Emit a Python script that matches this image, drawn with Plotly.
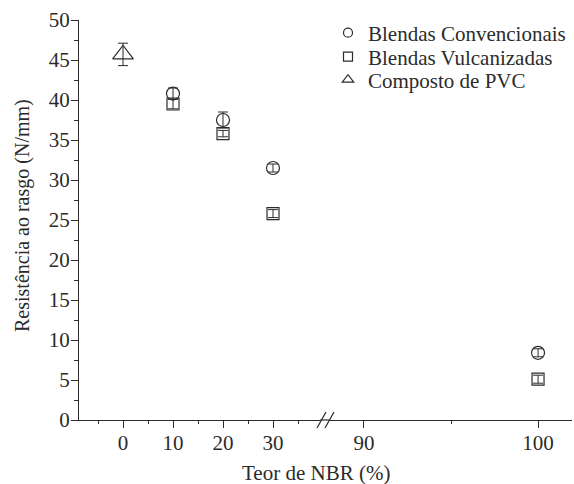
import plotly.graph_objects as go

# ---- data ----
nbr = [10, 20, 30, 100]
conv = [40.8, 37.5, 31.5, 8.4]
conv_err = [0.7, 1.0, 0.5, 0.5]
vulc = [39.5, 35.8, 25.8, 5.1]
vulc_err = [0.6, 0.4, 0.5, 0.5]
pvc_x = [0]
pvc = [45.7]
pvc_err = [1.4]

left_ticks = [0, 10, 20, 30]
right_ticks = [90, 100]
y_ticks = list(range(0, 51, 5))
BREAK = 60

INK = "#2b2b2b"
FONT = "Liberation Serif"
FS = 20

L_PX, R_PX, T_PX, B_PX = 79, 572, 20, 420
W_PX = R_PX - L_PX
H_PX = B_PX - T_PX
left_dom = [0, (320 - L_PX) / W_PX]
right_dom = [(330 - L_PX) / W_PX, 1]


def split(xs, ys, es):
    a = [(x, y, e) for x, y, e in zip(xs, ys, es) if x < BREAK]
    b = [(x, y, e) for x, y, e in zip(xs, ys, es) if x >= BREAK]
    return a, b


fig = go.Figure()

series = [
    ("Blendas Convencionais", nbr, conv, conv_err, "circle-open", 13, 9, "legend"),
    ("Blendas Vulcanizadas", nbr, vulc, vulc_err, "square-open", 12, 9, "legend2"),
    ("Composto de PVC", pvc_x, pvc, pvc_err, "triangle-up-open", 18, 10, "legend3"),
]

for name, xs, ys, es, sym, sz, lsz, leg in series:
    a, b = split(xs, ys, es)
    for part, xa in [(a, "x"), (b, "x2")]:
        if not part:
            continue
        fig.add_trace(go.Scatter(
            x=[p[0] for p in part], y=[p[1] for p in part],
            error_y=dict(type="data", array=[p[2] for p in part],
                         color=INK, thickness=1, width=5),
            mode="markers", name=name, legendgroup=name, showlegend=False,
            marker=dict(symbol=sym, size=sz, color=INK, line=dict(width=1.2, color=INK)),
            xaxis=xa, yaxis="y",
        ))
    # legend entry with the smaller legend symbol
    fig.add_trace(go.Scatter(
        x=[None], y=[None], mode="markers", name=name, legendgroup=name, legend=leg,
        marker=dict(symbol=sym, size=lsz, color=INK, line=dict(width=1.2, color=INK)),
        xaxis="x", yaxis="y",
    ))

axis_common = dict(
    showline=True, linecolor=INK, linewidth=1.2, ticks="outside",
    tickcolor=INK, ticklen=7, tickwidth=1.2, showgrid=False, zeroline=False,
    automargin=False,
    tickfont=dict(family=FONT, size=FS + 1, color=INK),
)


def legend_at(row_px):
    return dict(x=(328 - L_PX) / W_PX, y=(B_PX - row_px) / H_PX,
                xanchor="left", yanchor="middle",
                bgcolor="rgba(0,0,0,0)", font=dict(family=FONT, size=FS + 1, color=INK),
                itemwidth=30, tracegroupgap=0)


fig.update_layout(
    width=574, height=484,
    margin=dict(l=L_PX, r=574 - R_PX, t=T_PX, b=484 - B_PX, autoexpand=False),
    paper_bgcolor="white", plot_bgcolor="white",
    font=dict(family=FONT, size=FS, color=INK),
    xaxis=dict(domain=left_dom, range=[-8.8, 39.4], tickvals=left_ticks,
               ticklabelstandoff=-3,
               minor=dict(tickvals=[-5, 5, 15, 25, 35], ticklen=3, ticks="outside",
                          tickcolor=INK, tickwidth=1),
               anchor="y", **axis_common),
    xaxis2=dict(domain=right_dom, range=[88.05, 101.95], tickvals=right_ticks,
                ticklabelstandoff=-3,
                minor=dict(tickvals=[95], ticklen=3, ticks="outside",
                           tickcolor=INK, tickwidth=1),
                anchor="y", **axis_common),
    yaxis=dict(range=[0, 50], tickvals=y_ticks, ticklabelstandoff=-3,
               minor=dict(dtick=2.5, ticklen=4, ticks="outside",
                          tickcolor=INK, tickwidth=1),
               **axis_common),
    legend=legend_at(33),
    legend2=legend_at(57),
    legend3=legend_at(80),
    showlegend=True,
)

# axis titles
fig.add_annotation(text="Teor de NBR (%)", xref="paper", yref="paper",
                   x=(316 - L_PX) / W_PX, y=(B_PX - 473) / H_PX, showarrow=False,
                   font=dict(family=FONT, size=FS + 1, color=INK), yanchor="middle")
fig.add_annotation(text="Resistência ao rasgo (N/mm)", xref="paper", yref="paper",
                   x=(22 - L_PX) / W_PX, y=(B_PX - 216) / H_PX, showarrow=False,
                   textangle=-90, xanchor="center", yanchor="middle",
                   font=dict(family=FONT, size=FS, color=INK))

# connect the axis line across the gap and draw the break marks
fig.add_shape(type="line", xref="paper", yref="paper",
              x0=left_dom[1], x1=right_dom[0], y0=0, y1=0,
              line=dict(color=INK, width=1.2))
for x0 in (317, 325):
    fig.add_shape(type="line", xref="paper", yref="paper",
                  x0=(x0 - L_PX) / W_PX, y0=(B_PX - 428) / H_PX,
                  x1=(x0 + 9 - L_PX) / W_PX, y1=(B_PX - 412) / H_PX,
                  line=dict(color=INK, width=1.2))

fig.write_html("out.html", config={"displayModeBar": False},
               post_script="document.body.style.margin='0';document.body.style.overflow='hidden';")
